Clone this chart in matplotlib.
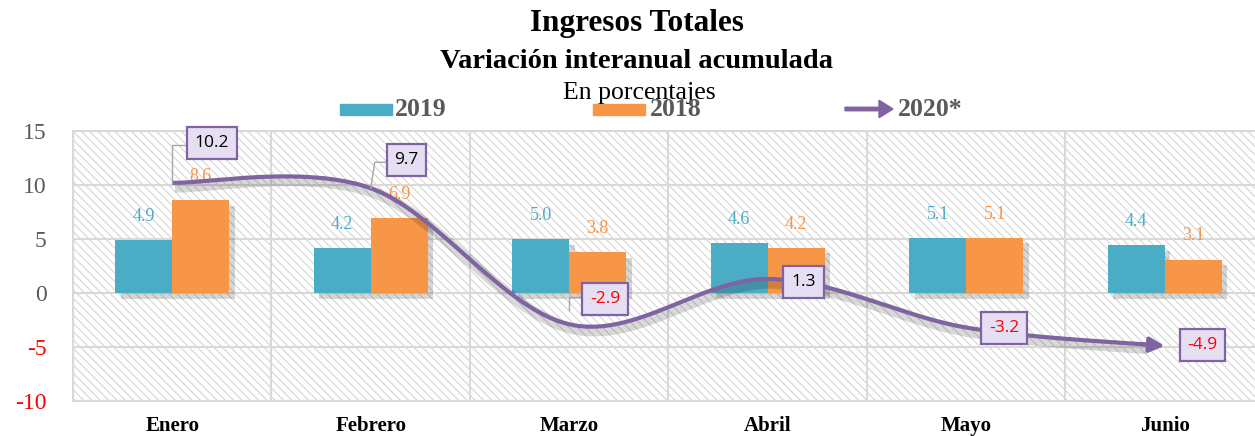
import numpy as np
import matplotlib.pyplot as plt
import matplotlib.patheffects as pe
from matplotlib.patches import Rectangle, FancyArrow

plt.rcParams['font.family'] = ['Liberation Serif', 'DejaVu Serif']
plt.rcParams['hatch.color'] = '#d6d6d6'
plt.rcParams['hatch.linewidth'] = 0.8

#---------data------
meses = ['Enero', 'Febrero', 'Marzo', 'Abril', 'Mayo', 'Junio']
v2019 = [4.9, 4.2, 5.0, 4.6, 5.1, 4.4]
v2018 = [8.6, 6.9, 3.8, 4.2, 5.1, 3.1]
v2020 = [10.2, 9.7, -2.9, 1.3, -3.2, -4.9]

c19 = '#4bacc6'
c18 = '#f79646'
c20 = '#8064a2'
gris = '#595959'

def smooth_line(x, y, n=40):
    # bezier like the excel "smoothed line"
    x = np.asarray(x, float)
    y = np.asarray(y, float)
    xs, ys = [], []
    N = len(x)
    for i in range(N - 1):
        i0 = max(i - 1, 0)
        i3 = min(i + 2, N - 1)
        p0 = np.array([x[i], y[i]])
        p3 = np.array([x[i + 1], y[i + 1]])
        p1 = p0 + (p3 - np.array([x[i0], y[i0]])) / 6
        p2 = p3 - (np.array([x[i3], y[i3]]) - p0) / 6
        t = np.linspace(0, 1, n)[:, None]
        b = (1 - t)**3 * p0 + 3 * (1 - t)**2 * t * p1 + 3 * (1 - t) * t**2 * p2 + t**3 * p3
        xs.extend(b[:, 0])
        ys.extend(b[:, 1])
    return np.array(xs), np.array(ys)

fig = plt.figure(figsize=(12.55, 4.36), dpi=100)
ax = fig.add_axes([73 / 1255, 1 - 401 / 436, 1191 / 1255, 270 / 436])

ax.patch.set_facecolor('white')
ax.patch.set_hatch('\\\\\\\\')
ax.patch.set_edgecolor('#d6d6d6')

x = np.arange(len(meses))
w = 0.287
shadow = [pe.SimplePatchShadow(offset=(4, -4), shadow_rgbFace='#000000', alpha=0.16), pe.Normal()]
ax.bar(x - w / 2, v2019, w, color=c19, zorder=3, path_effects=shadow)
ax.bar(x + w / 2, v2018, w, color=c18, zorder=3, path_effects=shadow)

for i in range(len(meses)):
    ax.text(x[i] - w / 2, v2019[i] + 1.4, f'{v2019[i]:.1f}', color=c19, ha='center', va='bottom', fontsize=13, zorder=4)
    ax.text(x[i] + w / 2, v2018[i] + 1.4, f'{v2018[i]:.1f}', color=c18, ha='center', va='bottom', fontsize=13, zorder=4)

# 2020 smooth line with arrow
xs, ys = smooth_line(x, v2020)
ax.plot(xs[:-6], ys[:-6], color=c20, lw=3, zorder=5, solid_capstyle='butt',
        path_effects=[pe.SimpleLineShadow(offset=(2, -3), shadow_color='#000000', alpha=0.15, linewidth=8), pe.Normal()])
ax.annotate('', xy=(xs[-1], ys[-1]), xytext=(xs[-8], ys[-8]),
            arrowprops=dict(arrowstyle='-|>', color=c20, lw=3, mutation_scale=22, shrinkA=0, shrinkB=0), zorder=5)

# callouts
box_pos = [(0.2, 13.9), (1.18, 12.3), (2.18, -0.55), (3.18, 1.0), (4.19, -3.25), (5.19, -4.8)]
leaders = [[(0, 10.2), (0, 13.7), (0.08, 13.7)],
           [(1.0, 9.7), (1.02, 12.1), (1.09, 12.1)],
           [(2.0, -1.6), (2.0, -0.4), (2.07, -0.4)],
           None, None, None]
for i, v in enumerate(v2020):
    bx, by = box_pos[i]
    if leaders[i] is not None:
        lx, ly = zip(*leaders[i])
        ax.plot(lx, ly, color='#a6a6a6', lw=1, zorder=5)
    ax.text(bx, by, f'{v:.1f}', ha='center', va='center', fontsize=12.5,
            family=['Open Sans', 'DejaVu Sans'],
            color='#ff0000' if v < 0 else 'black', zorder=7,
            bbox=dict(boxstyle='square,pad=0.45', fc='#e6def2', ec=c20, lw=1.6))

ax.set_xlim(-0.5, 5.5)
ax.set_ylim(-10, 15)
ax.set_yticks([-10, -5, 0, 5, 10, 15])
ax.set_yticklabels(['-10', '-5', '0', '5', '10', '15'], fontsize=17, color=gris)
for t in ax.get_yticklabels():
    if t.get_text().startswith('-'):
        t.set_color('#ff0000')
ax.set_xticks(x)
ax.set_xticklabels(meses, fontsize=15, fontweight='bold', color='black')
ax.tick_params(axis='both', length=0)
ax.tick_params(axis='y', pad=19)
ax.tick_params(axis='x', pad=11)
ax.set_xticks(np.arange(-0.5, 6, 0.5), minor=True)
ax.tick_params(axis='x', which='minor', length=0)
ax.grid(True, axis='y', color='#d9d9d9', lw=1.5, zorder=1)
ax.grid(True, axis='x', which='minor', color='#d9d9d9', lw=1.5, zorder=1)
for s in ax.spines.values():
    s.set_color('#d9d9d9')
    s.set_linewidth(1.5)
ax.spines['right'].set_visible(False)

# titles
fig.text(637 / 1255, 1 - 24 / 436, 'Ingresos Totales', ha='center', va='center', fontsize=22.5, fontweight='bold')
fig.text(637 / 1255, 1 - 61 / 436, 'Variación interanual acumulada', ha='center', va='center', fontsize=20.5, fontweight='bold')
fig.text(639 / 1255, 1 - 93 / 436, 'En porcentajes', ha='center', va='center', fontsize=18.5)

# legend
ly = 1 - 110 / 436
fig.add_artist(Rectangle((340 / 1255, 1 - 115 / 436), 52 / 1255, 11 / 436, color=c19, transform=fig.transFigure))
fig.text(395 / 1255, ly, '2019', ha='left', va='center', fontsize=18.5, fontweight='bold', color=gris)
fig.add_artist(Rectangle((593 / 1255, 1 - 115 / 436), 52 / 1255, 11 / 436, color=c18, transform=fig.transFigure))
fig.text(650 / 1255, ly, '2018', ha='left', va='center', fontsize=18.5, fontweight='bold', color=gris)
fig.add_artist(FancyArrow(845 / 1255, 1 - 109 / 436, 48 / 1255, 0, width=0.008, head_width=0.04, head_length=14 / 1255,
                          length_includes_head=True, color=c20, transform=fig.transFigure))
fig.text(898 / 1255, ly, '2020*', ha='left', va='center', fontsize=18.5, fontweight='bold', color=gris)

plt.savefig('out.png', dpi=100)
